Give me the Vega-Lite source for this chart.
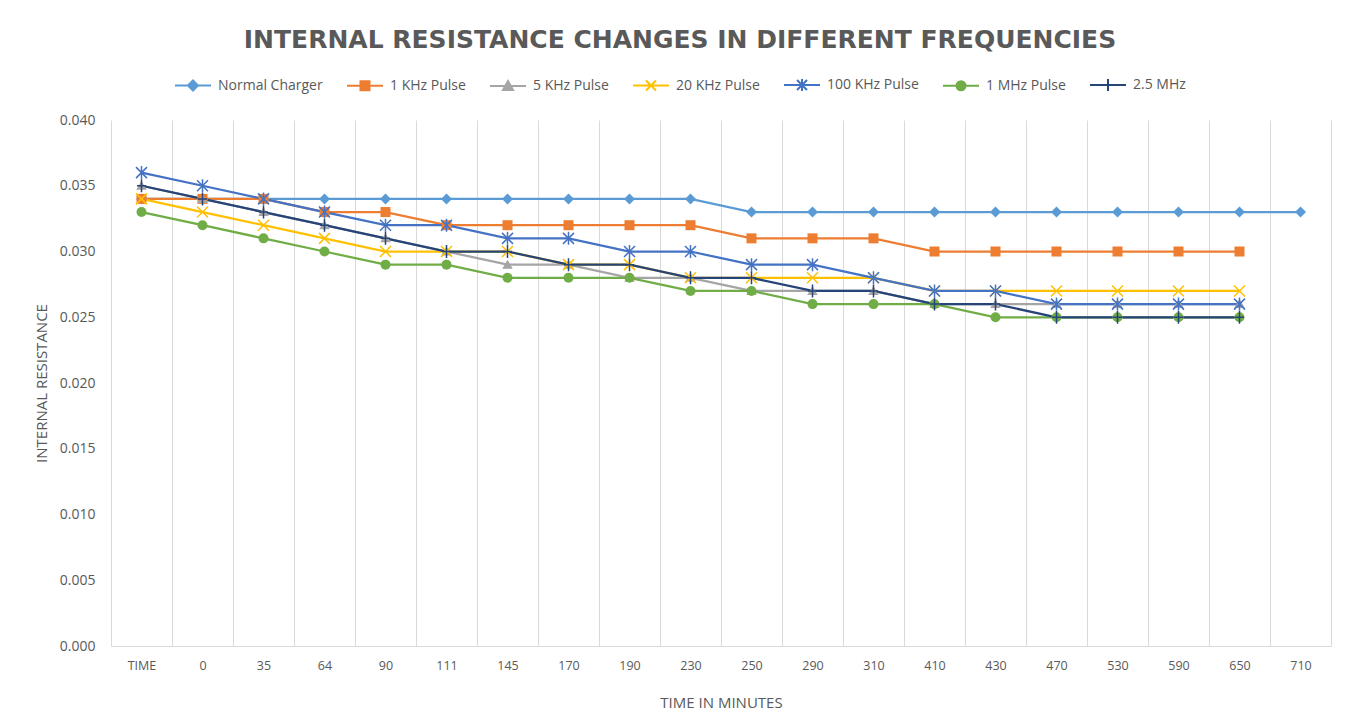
{
  "$schema": "https://vega.github.io/schema/vega-lite/v6.json",
  "width": 1220,
  "height": 526,
  "autosize": "none",
  "padding": {"left": 111, "top": 120, "right": 22, "bottom": 75},
  "background": "white",
  "config": {
    "font": "Open Sans",
    "view": {"stroke": null}
  },
  "title": {
    "text": "INTERNAL RESISTANCE CHANGES IN DIFFERENT FREQUENCIES",
    "anchor": "middle",
    "frame": "group",
    "fontSize": 25,
    "font": "DejaVu Sans",
    "fontWeight": "bold",
    "color": "#595959",
    "offset": 25,
    "dx": -41
  },
  "data": {
    "values": [
      {"t": "TIME", "s": "Normal Charger", "v": 0.034},
      {"t": "0", "s": "Normal Charger", "v": 0.034},
      {"t": "35", "s": "Normal Charger", "v": 0.034},
      {"t": "64", "s": "Normal Charger", "v": 0.034},
      {"t": "90", "s": "Normal Charger", "v": 0.034},
      {"t": "111", "s": "Normal Charger", "v": 0.034},
      {"t": "145", "s": "Normal Charger", "v": 0.034},
      {"t": "170", "s": "Normal Charger", "v": 0.034},
      {"t": "190", "s": "Normal Charger", "v": 0.034},
      {"t": "230", "s": "Normal Charger", "v": 0.034},
      {"t": "250", "s": "Normal Charger", "v": 0.033},
      {"t": "290", "s": "Normal Charger", "v": 0.033},
      {"t": "310", "s": "Normal Charger", "v": 0.033},
      {"t": "410", "s": "Normal Charger", "v": 0.033},
      {"t": "430", "s": "Normal Charger", "v": 0.033},
      {"t": "470", "s": "Normal Charger", "v": 0.033},
      {"t": "530", "s": "Normal Charger", "v": 0.033},
      {"t": "590", "s": "Normal Charger", "v": 0.033},
      {"t": "650", "s": "Normal Charger", "v": 0.033},
      {"t": "710", "s": "Normal Charger", "v": 0.033},

      {"t": "TIME", "s": "1 KHz Pulse", "v": 0.034},
      {"t": "0", "s": "1 KHz Pulse", "v": 0.034},
      {"t": "35", "s": "1 KHz Pulse", "v": 0.034},
      {"t": "64", "s": "1 KHz Pulse", "v": 0.033},
      {"t": "90", "s": "1 KHz Pulse", "v": 0.033},
      {"t": "111", "s": "1 KHz Pulse", "v": 0.032},
      {"t": "145", "s": "1 KHz Pulse", "v": 0.032},
      {"t": "170", "s": "1 KHz Pulse", "v": 0.032},
      {"t": "190", "s": "1 KHz Pulse", "v": 0.032},
      {"t": "230", "s": "1 KHz Pulse", "v": 0.032},
      {"t": "250", "s": "1 KHz Pulse", "v": 0.031},
      {"t": "290", "s": "1 KHz Pulse", "v": 0.031},
      {"t": "310", "s": "1 KHz Pulse", "v": 0.031},
      {"t": "410", "s": "1 KHz Pulse", "v": 0.030},
      {"t": "430", "s": "1 KHz Pulse", "v": 0.030},
      {"t": "470", "s": "1 KHz Pulse", "v": 0.030},
      {"t": "530", "s": "1 KHz Pulse", "v": 0.030},
      {"t": "590", "s": "1 KHz Pulse", "v": 0.030},
      {"t": "650", "s": "1 KHz Pulse", "v": 0.030},

      {"t": "TIME", "s": "5 KHz Pulse", "v": 0.035},
      {"t": "0", "s": "5 KHz Pulse", "v": 0.034},
      {"t": "35", "s": "5 KHz Pulse", "v": 0.033},
      {"t": "64", "s": "5 KHz Pulse", "v": 0.032},
      {"t": "90", "s": "5 KHz Pulse", "v": 0.031},
      {"t": "111", "s": "5 KHz Pulse", "v": 0.030},
      {"t": "145", "s": "5 KHz Pulse", "v": 0.029},
      {"t": "170", "s": "5 KHz Pulse", "v": 0.029},
      {"t": "190", "s": "5 KHz Pulse", "v": 0.028},
      {"t": "230", "s": "5 KHz Pulse", "v": 0.028},
      {"t": "250", "s": "5 KHz Pulse", "v": 0.027},
      {"t": "290", "s": "5 KHz Pulse", "v": 0.027},
      {"t": "310", "s": "5 KHz Pulse", "v": 0.027},
      {"t": "410", "s": "5 KHz Pulse", "v": 0.026},
      {"t": "430", "s": "5 KHz Pulse", "v": 0.026},
      {"t": "470", "s": "5 KHz Pulse", "v": 0.026},
      {"t": "530", "s": "5 KHz Pulse", "v": 0.026},
      {"t": "590", "s": "5 KHz Pulse", "v": 0.026},
      {"t": "650", "s": "5 KHz Pulse", "v": 0.026},

      {"t": "TIME", "s": "20 KHz Pulse", "v": 0.034},
      {"t": "0", "s": "20 KHz Pulse", "v": 0.033},
      {"t": "35", "s": "20 KHz Pulse", "v": 0.032},
      {"t": "64", "s": "20 KHz Pulse", "v": 0.031},
      {"t": "90", "s": "20 KHz Pulse", "v": 0.030},
      {"t": "111", "s": "20 KHz Pulse", "v": 0.030},
      {"t": "145", "s": "20 KHz Pulse", "v": 0.030},
      {"t": "170", "s": "20 KHz Pulse", "v": 0.029},
      {"t": "190", "s": "20 KHz Pulse", "v": 0.029},
      {"t": "230", "s": "20 KHz Pulse", "v": 0.028},
      {"t": "250", "s": "20 KHz Pulse", "v": 0.028},
      {"t": "290", "s": "20 KHz Pulse", "v": 0.028},
      {"t": "310", "s": "20 KHz Pulse", "v": 0.028},
      {"t": "410", "s": "20 KHz Pulse", "v": 0.027},
      {"t": "430", "s": "20 KHz Pulse", "v": 0.027},
      {"t": "470", "s": "20 KHz Pulse", "v": 0.027},
      {"t": "530", "s": "20 KHz Pulse", "v": 0.027},
      {"t": "590", "s": "20 KHz Pulse", "v": 0.027},
      {"t": "650", "s": "20 KHz Pulse", "v": 0.027},

      {"t": "TIME", "s": "100 KHz Pulse", "v": 0.036},
      {"t": "0", "s": "100 KHz Pulse", "v": 0.035},
      {"t": "35", "s": "100 KHz Pulse", "v": 0.034},
      {"t": "64", "s": "100 KHz Pulse", "v": 0.033},
      {"t": "90", "s": "100 KHz Pulse", "v": 0.032},
      {"t": "111", "s": "100 KHz Pulse", "v": 0.032},
      {"t": "145", "s": "100 KHz Pulse", "v": 0.031},
      {"t": "170", "s": "100 KHz Pulse", "v": 0.031},
      {"t": "190", "s": "100 KHz Pulse", "v": 0.030},
      {"t": "230", "s": "100 KHz Pulse", "v": 0.030},
      {"t": "250", "s": "100 KHz Pulse", "v": 0.029},
      {"t": "290", "s": "100 KHz Pulse", "v": 0.029},
      {"t": "310", "s": "100 KHz Pulse", "v": 0.028},
      {"t": "410", "s": "100 KHz Pulse", "v": 0.027},
      {"t": "430", "s": "100 KHz Pulse", "v": 0.027},
      {"t": "470", "s": "100 KHz Pulse", "v": 0.026},
      {"t": "530", "s": "100 KHz Pulse", "v": 0.026},
      {"t": "590", "s": "100 KHz Pulse", "v": 0.026},
      {"t": "650", "s": "100 KHz Pulse", "v": 0.026},

      {"t": "TIME", "s": "1 MHz Pulse", "v": 0.033},
      {"t": "0", "s": "1 MHz Pulse", "v": 0.032},
      {"t": "35", "s": "1 MHz Pulse", "v": 0.031},
      {"t": "64", "s": "1 MHz Pulse", "v": 0.030},
      {"t": "90", "s": "1 MHz Pulse", "v": 0.029},
      {"t": "111", "s": "1 MHz Pulse", "v": 0.029},
      {"t": "145", "s": "1 MHz Pulse", "v": 0.028},
      {"t": "170", "s": "1 MHz Pulse", "v": 0.028},
      {"t": "190", "s": "1 MHz Pulse", "v": 0.028},
      {"t": "230", "s": "1 MHz Pulse", "v": 0.027},
      {"t": "250", "s": "1 MHz Pulse", "v": 0.027},
      {"t": "290", "s": "1 MHz Pulse", "v": 0.026},
      {"t": "310", "s": "1 MHz Pulse", "v": 0.026},
      {"t": "410", "s": "1 MHz Pulse", "v": 0.026},
      {"t": "430", "s": "1 MHz Pulse", "v": 0.025},
      {"t": "470", "s": "1 MHz Pulse", "v": 0.025},
      {"t": "530", "s": "1 MHz Pulse", "v": 0.025},
      {"t": "590", "s": "1 MHz Pulse", "v": 0.025},
      {"t": "650", "s": "1 MHz Pulse", "v": 0.025},

      {"t": "TIME", "s": "2.5 MHz", "v": 0.035},
      {"t": "0", "s": "2.5 MHz", "v": 0.034},
      {"t": "35", "s": "2.5 MHz", "v": 0.033},
      {"t": "64", "s": "2.5 MHz", "v": 0.032},
      {"t": "90", "s": "2.5 MHz", "v": 0.031},
      {"t": "111", "s": "2.5 MHz", "v": 0.030},
      {"t": "145", "s": "2.5 MHz", "v": 0.030},
      {"t": "170", "s": "2.5 MHz", "v": 0.029},
      {"t": "190", "s": "2.5 MHz", "v": 0.029},
      {"t": "230", "s": "2.5 MHz", "v": 0.028},
      {"t": "250", "s": "2.5 MHz", "v": 0.028},
      {"t": "290", "s": "2.5 MHz", "v": 0.027},
      {"t": "310", "s": "2.5 MHz", "v": 0.027},
      {"t": "410", "s": "2.5 MHz", "v": 0.026},
      {"t": "430", "s": "2.5 MHz", "v": 0.026},
      {"t": "470", "s": "2.5 MHz", "v": 0.025},
      {"t": "530", "s": "2.5 MHz", "v": 0.025},
      {"t": "590", "s": "2.5 MHz", "v": 0.025},
      {"t": "650", "s": "2.5 MHz", "v": 0.025}
    ]
  },
  "encoding": {
    "x": {
      "field": "t",
      "type": "ordinal",
      "sort": ["TIME","0","35","64","90","111","145","170","190","230","250","290","310","410","430","470","530","590","650","710"],
      "scale": {"paddingInner": 0, "paddingOuter": 0},
      "axis": {
        "title": "TIME IN MINUTES",
        "titleFont": "Open Sans",
        "titleFontSize": 15,
        "titleFontWeight": "normal",
        "titleColor": "#595959",
        "titlePadding": 24,
        "labelAngle": 0,
        "labelFont": "Open Sans",
        "labelFontSize": 12.5,
        "labelColor": "#595959",
        "labelPadding": 13,
        "ticks": false,
        "grid": true,
        "tickBand": "extent",
        "gridColor": "#D9D9D9",
        "gridWidth": 1,
        "domainColor": "#D9D9D9",
        "domainWidth": 1
      }
    },
    "y": {
      "field": "v",
      "type": "quantitative",
      "scale": {"domain": [0, 0.04], "nice": false, "zero": true},
      "axis": {
        "title": "INTERNAL RESISTANCE",
        "titleFont": "Open Sans",
        "titleFontSize": 15,
        "titleFontWeight": "normal",
        "titleColor": "#595959",
        "titlePadding": 10,
        "values": [0, 0.005, 0.01, 0.015, 0.02, 0.025, 0.03, 0.035, 0.04],
        "format": ".3f",
        "labelFont": "Open Sans",
        "labelFontSize": 14,
        "labelColor": "#595959",
        "labelPadding": 16,
        "ticks": false,
        "grid": false,
        "domain": false
      }
    }
  },
  "layer": [
    {
      "mark": {"type": "line", "strokeWidth": 2.25},
      "encoding": {
        "color": {
          "field": "s",
          "type": "nominal",
          "sort": null,
          "scale": {
            "domain": ["Normal Charger","1 KHz Pulse","5 KHz Pulse","20 KHz Pulse","100 KHz Pulse","1 MHz Pulse","2.5 MHz"],
            "range": ["#5B9BD5","#ED7D31","#A5A5A5","#FFC000","#4472C4","#70AD47","#264478"]
          },
          "legend": {
            "title": null,
            "orient": "none",
            "direction": "horizontal",
            "legendX": 75,
            "legendY": -42,
            "columnPadding": 20,
            "labelFont": "Open Sans",
            "labelFontSize": 14,
            "labelColor": "#595959",
            "symbolSize": 100,
            "symbolStrokeWidth": 2,
            "labelOffset": 18,
            "encode": {
              "symbols": {
                "update": {
                  "shape": {"signal": "datum.value === 'Normal Charger' ? 'M-3.6,0L3.6,0M0,-1L1,0L0,1L-1,0Z' : datum.value === '1 KHz Pulse' ? 'M-3.6,0L3.6,0M-0.9,-0.9L0.9,-0.9L0.9,0.9L-0.9,0.9Z' : datum.value === '5 KHz Pulse' ? 'M-3.6,0L3.6,0M0,-1L1,0.8L-1,0.8Z' : datum.value === '20 KHz Pulse' ? 'M-3.6,0L3.6,0M-1,-1L1,1M-1,1L1,-1' : datum.value === '100 KHz Pulse' ? 'M-3.6,0L3.6,0M-1,-1L1,1M-1,1L1,-1M0,-1.2L0,1.2' : datum.value === '1 MHz Pulse' ? 'M-3.6,0L3.6,0M-0.9,0A0.9,0.9,0,1,1,0.9,0A0.9,0.9,0,1,1,-0.9,0Z' : 'M-3.6,0L3.6,0M0,-1.2L0,1.2'"},
                  "fill": {"scale": "color", "field": "value"},
                  "stroke": {"scale": "color", "field": "value"},
                  "strokeWidth": {"value": 2}
                }
              }
            }
          }
        }
      }
    },
    {
      "transform": [{"filter": "datum.s === 'Normal Charger'"}],
      "mark": {"type": "point", "shape": "M0,-1.1L1.1,0L0,1.1L-1.1,0Z", "size": 100, "filled": true, "color": "#5B9BD5", "opacity": 1}
    },
    {
      "transform": [{"filter": "datum.s === '1 KHz Pulse'"}],
      "mark": {"type": "point", "shape": "M-1,-1L1,-1L1,1L-1,1Z", "size": 100, "filled": true, "color": "#ED7D31", "opacity": 1}
    },
    {
      "transform": [{"filter": "datum.s === '5 KHz Pulse'"}],
      "mark": {"type": "point", "shape": "M0,-1L1.05,0.8L-1.05,0.8Z", "size": 100, "filled": true, "color": "#A5A5A5", "opacity": 1}
    },
    {
      "transform": [{"filter": "datum.s === '20 KHz Pulse'"}],
      "mark": {"type": "point", "shape": "M-1.1,-1.1L1.1,1.1M-1.1,1.1L1.1,-1.1", "size": 100, "filled": false, "stroke": "#FFC000", "strokeWidth": 1.5, "opacity": 1}
    },
    {
      "transform": [{"filter": "datum.s === '100 KHz Pulse'"}],
      "mark": {"type": "point", "shape": "M-1.1,-1.1L1.1,1.1M-1.1,1.1L1.1,-1.1M0,-1.3L0,1.3", "size": 100, "filled": false, "stroke": "#4472C4", "strokeWidth": 1.5, "opacity": 1}
    },
    {
      "transform": [{"filter": "datum.s === '1 MHz Pulse'"}],
      "mark": {"type": "point", "shape": "circle", "size": 100, "filled": true, "color": "#70AD47", "opacity": 1}
    },
    {
      "transform": [{"filter": "datum.s === '2.5 MHz'"}],
      "mark": {"type": "point", "shape": "M-0.9,0L0.9,0M0,-1.3L0,1.3", "size": 100, "filled": false, "stroke": "#264478", "strokeWidth": 1.5, "opacity": 1}
    }
  ]
}
